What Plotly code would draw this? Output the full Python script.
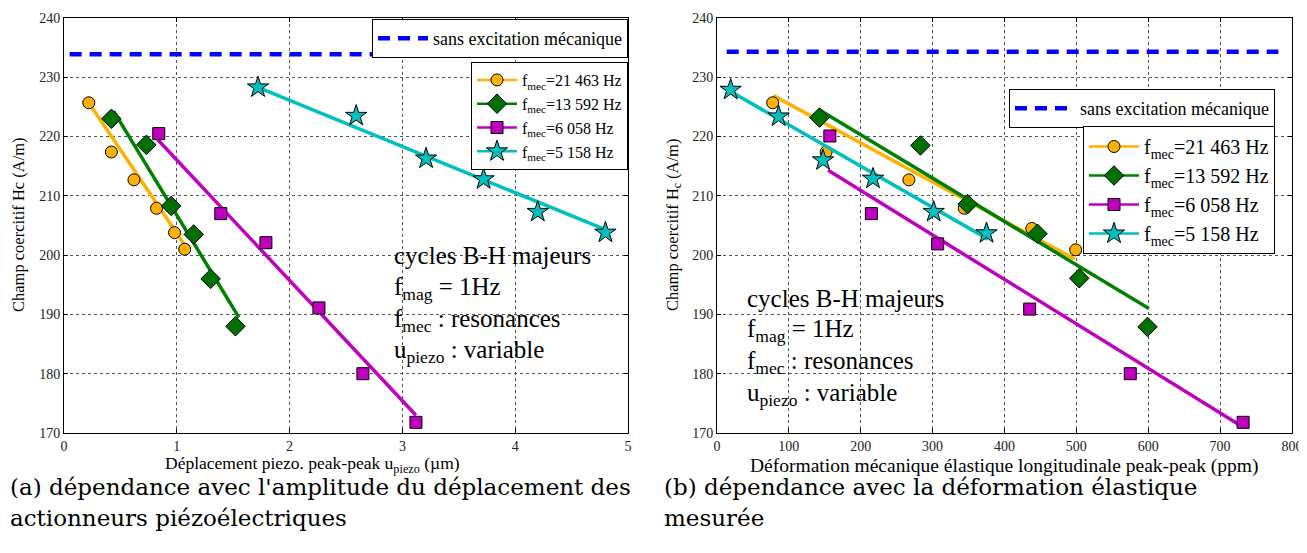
import plotly.graph_objects as go

# ---------------- data ----------------
series_names = ["f<sub>mec</sub>=21 463 Hz", "f<sub>mec</sub>=13 592 Hz",
                "f<sub>mec</sub>=6 058 Hz", "f<sub>mec</sub>=5 158 Hz"]
ref_label = "sans excitation mécanique"

# (a) displacement (µm) vs Hc (A/m)
a_x_21463 = [0.22, 0.42, 0.62, 0.82, 0.98, 1.07]
a_y_21463 = [225.7, 217.4, 212.7, 207.9, 203.8, 201.0]
a_x_13592 = [0.42, 0.73, 0.95, 1.15, 1.30, 1.52]
a_y_13592 = [223.0, 218.6, 208.3, 203.5, 196.0, 188.0]
a_x_6058 = [0.84, 1.39, 1.79, 2.26, 2.65, 3.12]
a_y_6058 = [220.5, 207.0, 202.1, 191.1, 180.0, 171.8]
a_x_5158 = [1.72, 2.59, 3.21, 3.72, 4.20, 4.80]
a_y_5158 = [228.3, 223.5, 216.3, 212.8, 207.3, 203.8]
a_fit_x = [[0.22, 1.08], [0.44, 1.55], [0.83, 3.12], [1.72, 4.80]]
a_fit_y = [[225.7, 201.4], [224.3, 189.5], [219.5, 173.0], [228.3, 204.3]]
a_ref_x = [0.05, 4.92]
a_ref_y = [233.9, 233.9]

# (b) strain (ppm) vs Hc (A/m)
b_x_21463 = [77.5, 151.8, 267.0, 344.0, 438.0, 499.0]
b_y_21463 = [225.7, 217.4, 212.7, 207.9, 204.5, 200.9]
b_x_13592 = [142.6, 283.0, 348.7, 446.0, 504.0, 599.0]
b_y_13592 = [223.2, 218.5, 208.6, 203.6, 196.1, 187.9]
b_x_6058 = [157.0, 214.8, 307.0, 435.0, 575.0, 732.0]
b_y_6058 = [220.1, 207.0, 201.9, 190.9, 180.0, 171.8]
b_x_5158 = [19.0, 85.7, 147.5, 217.0, 301.5, 375.0]
b_y_5158 = [227.9, 223.4, 216.0, 212.9, 207.3, 203.7]
b_fit_x = [[78.6, 498.0], [141.0, 600.9], [154.6, 729.4], [19.0, 377.0]]
b_fit_y = [[226.9, 199.3], [224.6, 191.0], [214.3, 171.2], [227.6, 202.7]]
b_ref_x = [13.5, 781.0]
b_ref_y = [234.3, 234.3]

x_ticks_a = [0, 1, 2, 3, 4, 5]
x_ticks_b = [0, 100, 200, 300, 400, 500, 600, 700, 800]
y_ticks = [170, 180, 190, 200, 210, 220, 230, 240]

# ---------------- style ----------------
colors = ["#FFB000", "#008000", "#BF00BF", "#00BFBF"]
marker_colors = ["#FFB000", "#007000", "#BF00BF", "#00BFBF"]
symbols = ["circle", "diamond", "square", "star"]
msizes = [12, 15, 12, 16]
FONT = "Liberation Serif"

fig = go.Figure()

def add_panel(xs, ys, fit_x, fit_y, ref_x, ref_y, xaxis, yaxis, leg_ref, leg_ser):
    fig.add_trace(go.Scatter(x=ref_x, y=ref_y, mode="lines", name=ref_label,
                             line=dict(color="#0000FF", width=4.5, dash="12px,8px"),
                             xaxis=xaxis, yaxis=yaxis, legend=leg_ref))
    for i in range(4):
        fig.add_trace(go.Scatter(x=fit_x[i], y=fit_y[i], mode="lines",
                                 line=dict(color=colors[i], width=3.5),
                                 showlegend=False, xaxis=xaxis, yaxis=yaxis,
                                 hoverinfo="skip"))
        fig.add_trace(go.Scatter(x=xs[i], y=ys[i], mode="markers", showlegend=False,
                                 marker=dict(symbol=symbols[i], size=msizes[i],
                                             color=marker_colors[i],
                                             line=dict(color="black", width=1)),
                                 xaxis=xaxis, yaxis=yaxis))
    for i in range(4):
        fig.add_trace(go.Scatter(x=[None], y=[None], mode="lines+markers",
                                 name=series_names[i],
                                 line=dict(color=colors[i], width=2.5),
                                 marker=dict(symbol=symbols[i], size=msizes[i],
                                             color=marker_colors[i],
                                             line=dict(color="black", width=1)),
                                 xaxis=xaxis, yaxis=yaxis, legend=leg_ser))

add_panel([a_x_21463, a_x_13592, a_x_6058, a_x_5158],
          [a_y_21463, a_y_13592, a_y_6058, a_y_5158],
          a_fit_x, a_fit_y, a_ref_x, a_ref_y, "x", "y", "legend", "legend2")
add_panel([b_x_21463, b_x_13592, b_x_6058, b_x_5158],
          [b_y_21463, b_y_13592, b_y_6058, b_y_5158],
          b_fit_x, b_fit_y, b_ref_x, b_ref_y, "x2", "y2", "legend3", "legend4")

W, H = 1307, 553
OFF = 8  # page body margin
def px(x): return max(0.0, (x - OFF) / W)
def py(y): return 1 - (y - OFF) / H

axis_common = dict(showline=True, linecolor="black", linewidth=1, mirror="ticks",
                   ticks="inside", ticklen=4, tickcolor="black", automargin=False,
                   showgrid=True, gridcolor="#555555", griddash="dot", gridwidth=1,
                   zeroline=False, tickfont=dict(family=FONT, size=14, color="#222"))

def leg(xr, yt, size, iw=40):
    return dict(x=px(xr), xanchor="right", y=py(yt), yanchor="top",
                bordercolor="black", borderwidth=1, bgcolor="white",
                font=dict(family=FONT, size=size, color="black"), itemwidth=iw,
                tracegroupgap=0)

fig.update_layout(
    template="none",
    width=W, height=H, margin=dict(l=0, r=0, t=0, b=0, pad=0, autoexpand=False),
    paper_bgcolor="white", plot_bgcolor="white",
    font=dict(family=FONT, color="black"),
    xaxis=dict(domain=[px(64), px(628)], range=[0, 5], tickvals=x_ticks_a,
               anchor="y", **axis_common),
    yaxis=dict(domain=[py(433), py(18)], range=[170, 240], tickvals=y_ticks,
               anchor="x", **axis_common),
    xaxis2=dict(domain=[px(717), px(1292)], range=[0, 800], tickvals=x_ticks_b,
                anchor="y2", **axis_common),
    yaxis2=dict(domain=[py(433), py(18)], range=[170, 240], tickvals=y_ticks,
                anchor="x2", **axis_common),
    legend=leg(628, 19, 18, 50),
    legend2=leg(628, 62, 16),
    legend3=leg(1275, 89, 18, 60),
    legend4=leg(1275, 126, 20, 50),
)

ann = []
# axis titles
ann.append(dict(text="Champ coercitif Hc (A/m)", x=px(18), y=py(225), textangle=-90,
                font=dict(size=16.5)))
ann.append(dict(text="Champ coercitif H<sub>c</sub> (A/m)", x=px(673), y=py(225),
                textangle=-90, font=dict(size=16.5)))
ann.append(dict(text="Déplacement piezo. peak-peak u<sub>piezo</sub> (µm)", x=px(312),
                y=py(464), font=dict(size=17.5)))
ann.append(dict(text="Déformation mécanique élastique longitudinale peak-peak (ppm)",
                x=px(1004), y=py(466), font=dict(size=19.5)))
# in-plot text
info = ["cycles B-H majeurs", "f<sub>mag</sub> = 1Hz", "f<sub>mec</sub> : resonances",
        "u<sub>piezo</sub> : variable"]
for i, t in enumerate(info):
    ann.append(dict(text=t, x=px(392), y=py([255, 288, 320, 351][i]), xanchor="left",
                    font=dict(size=25)))
    ann.append(dict(text=t, x=px(745), y=py([298, 330, 362, 394][i]), xanchor="left",
                    font=dict(size=25)))
# captions
CAP = "DejaVu Serif"
ann.append(dict(text="(a) dépendance avec l'amplitude du déplacement des", x=px(7),
                y=py(487), xanchor="left", font=dict(family=CAP, size=23)))
ann.append(dict(text="actionneurs piézoélectriques", x=px(7),
                y=py(518), xanchor="left", font=dict(family=CAP, size=23)))
ann.append(dict(text="(b) dépendance avec la déformation élastique", x=px(662),
                y=py(487), xanchor="left", font=dict(family=CAP, size=23)))
ann.append(dict(text="mesurée", x=px(662),
                y=py(518), xanchor="left", font=dict(family=CAP, size=23)))

for a in ann:
    a.setdefault("xanchor", "center")
    a.setdefault("yanchor", "middle")
    a.update(xref="paper", yref="paper", showarrow=False)
    a["font"] = dict(family=a["font"].get("family", FONT), size=a["font"]["size"],
                     color="black")
fig.update_layout(annotations=ann)

fig.write_html("out.html")
